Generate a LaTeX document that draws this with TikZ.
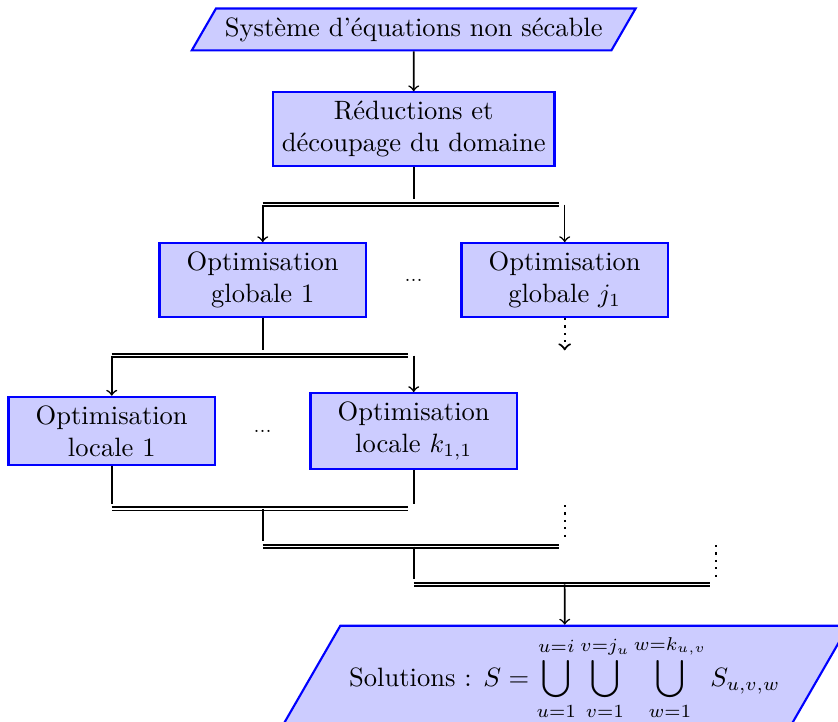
\documentclass[tikz,border=0pt]{standalone}
\usetikzlibrary{shapes.geometric}
\begin{document}
\begin{tikzpicture}[
  block/.style={draw=blue, thick, fill=blue!20, align=center},
  optbox/.style={block, text width=2.5cm},
  iobox/.style={block, trapezium, trapezium left angle=60, trapezium right angle=120},
  arrow/.style={->, semithick},
  stem/.style={semithick, shorten >=0.07cm},
  rail/.style={semithick, double, double distance=0.6pt},
  more/.style={thick, dotted}
]
\useasboundingbox (-5.48,-5.85) rectangle (5.62,3.71);

\node[iobox] (sys) at (0,3.32) {Système d'équations non sécable};
\node[block] (red) at (0,2) {Réductions et\\découpage du domaine};

\node[optbox] (g1) at (-2,0) {Optimisation\\globale 1};
\node (gdots) at (0,0) {\scriptsize ...};
\node[optbox] (gj) at (2,0) {Optimisation\\globale $j_1$};

\node[optbox] (l1) at (-4,-2) {Optimisation\\locale 1};
\node (ldots) at (-2,-2) {\scriptsize ...};
\node[optbox] (lk) at (0,-2) {Optimisation\\locale $k_{1,1}$};

\node[iobox] (sol) at (2,-5.26) {Solutions : $\displaystyle S = \bigcup_{u=1}^{u=i} \bigcup_{v=1}^{v=j_u} \bigcup_{w=1}^{w=k_{u,v}} S_{u,v,w}$};

\coordinate (split1) at (0,1);
\coordinate (split2) at (0,-1);
\coordinate (merge1) at (0,-3.03);
\coordinate (merge2) at (0,-3.53);
\coordinate (merge3) at (0,-4.03);
\coordinate (m3end) at (3.93,-4.03);
\coordinate (m3dots) at (4,-3.51);

\draw[arrow] (sys) -- (red);

\draw[stem] (red) -- (red |- split1);
\draw[rail] (g1 |- split1) -- ([xshift=-0.07cm]gj |- split1);
\draw[arrow] (g1 |- split1) -- (g1);
\draw[arrow] (gj |- split1) -- (gj);

\draw[stem] (g1) -- (g1 |- split2);
\draw[rail] (l1 |- split2) -- ([xshift=-0.07cm]lk |- split2);
\draw[arrow] (l1 |- split2) -- (l1);
\draw[arrow] (lk |- split2) -- (lk);
\draw[arrow, more, shorten >=0.07cm] (gj) -- (gj |- split2);

\draw[stem] (l1) -- (l1 |- merge1);
\draw[stem] (lk) -- (lk |- merge1);
\draw[rail] (l1 |- merge1) -- ([xshift=-0.07cm]lk |- merge1);

\draw[stem] (g1 |- merge1) -- (g1 |- merge2);
\draw[more, shorten >=0.09cm] ([yshift=0.05cm]gj |- merge1) -- (gj |- merge2);
\draw[rail] (g1 |- merge2) -- ([xshift=-0.07cm]gj |- merge2);

\draw[stem] (lk |- merge2) -- (lk |- merge3);
\draw[more, shorten >=0.08cm] (m3dots) -- (m3dots |- merge3);
\draw[rail] (lk |- merge3) -- (m3end);

\draw[arrow] (gj |- merge3) -- (sol);
\end{tikzpicture}
\end{document}
